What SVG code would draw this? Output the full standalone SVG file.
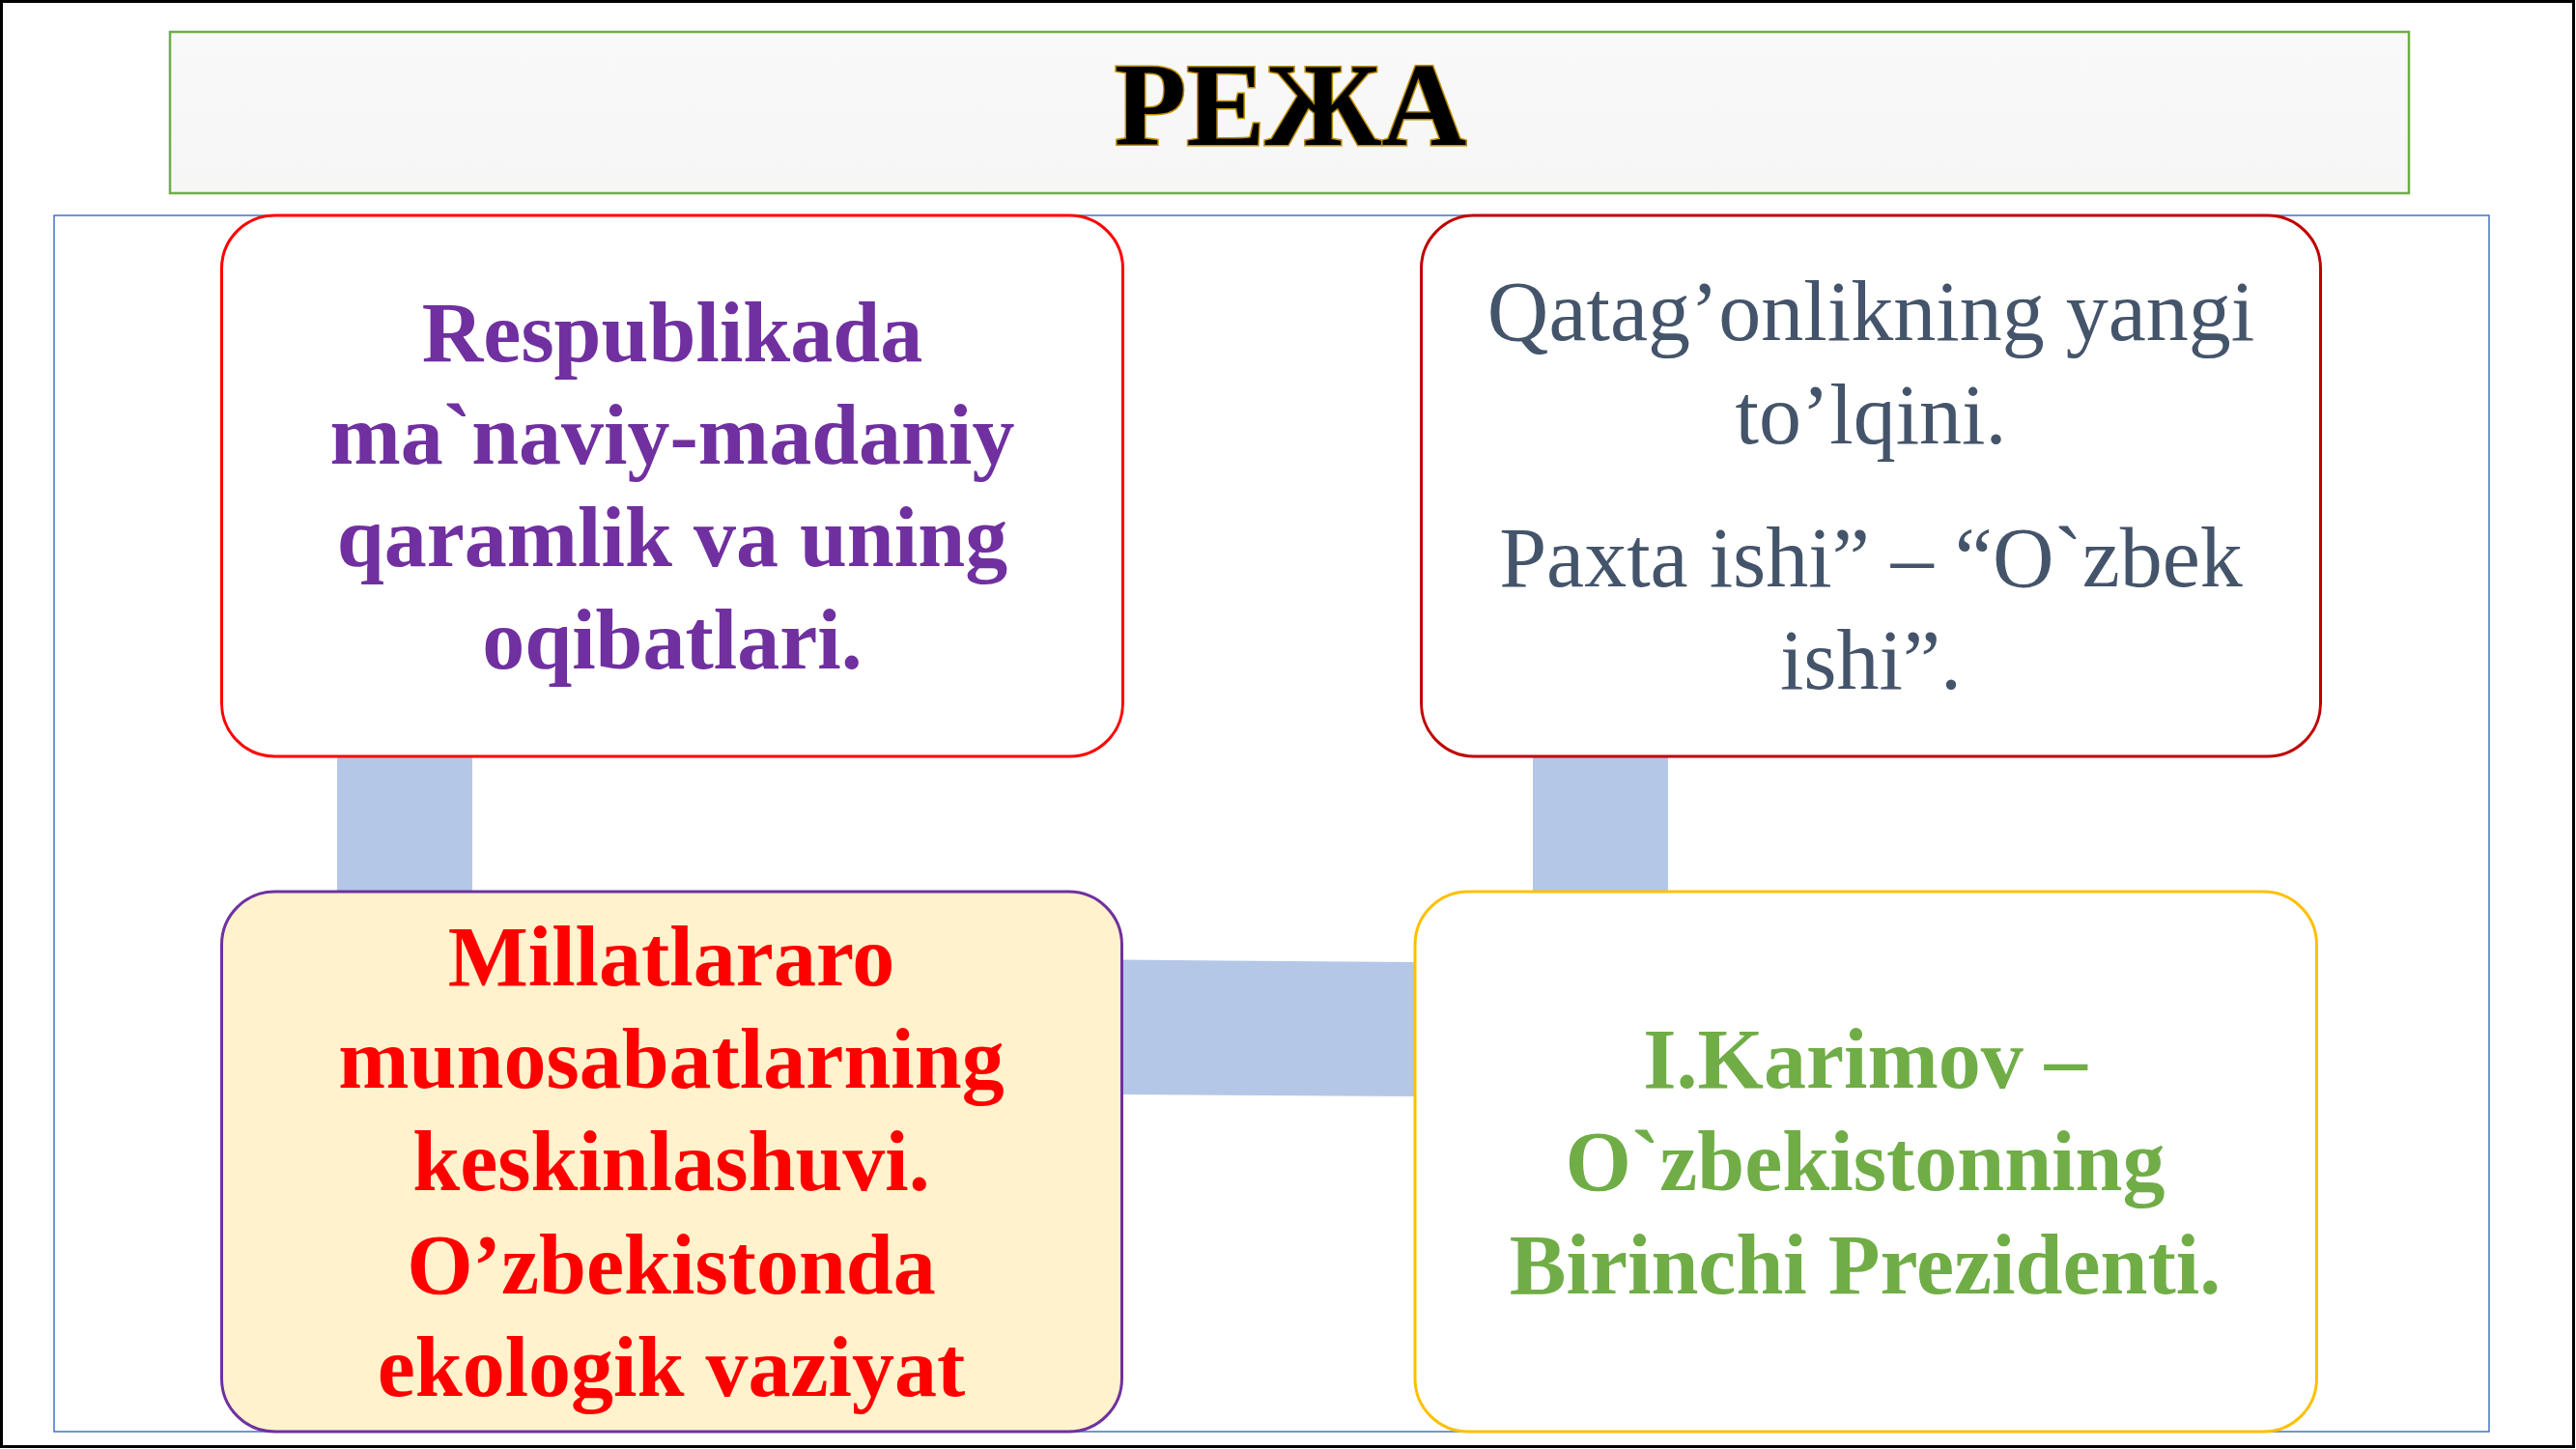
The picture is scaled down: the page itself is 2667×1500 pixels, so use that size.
<svg xmlns="http://www.w3.org/2000/svg" width="2667" height="1500" viewBox="0 0 2667 1500">
<style>
.t{font-family:"Liberation Serif","Times New Roman",serif;font-size:88px;text-anchor:middle}
.b{font-weight:bold}
.box{stroke-width:3}
.conn{fill:#B4C7E7;stroke:none}
</style>
<defs>
<linearGradient id="hdr" x1="0" y1="0" x2="0" y2="1">
<stop offset="0" stop-color="#F9F9F9"/>
<stop offset="1" stop-color="#F6F6F6"/>
</linearGradient>
</defs>
<rect x="0" y="0" width="2667" height="1500" fill="#FFFFFF"/>
<rect x="1.5" y="1.5" width="2663" height="1496" fill="none" stroke="#000000" stroke-width="3"/>
<g id="header">
<rect x="176" y="33" width="2318" height="167" fill="url(#hdr)" stroke="#70AD47" stroke-width="2.5"/>
<text x="1336" y="150" style="font-family:'Liberation Serif','Times New Roman',serif;font-size:122px;font-weight:bold;text-anchor:middle;paint-order:stroke" fill="#000000" stroke="#BF8F00" stroke-width="3">РЕЖА</text>
</g>
<rect id="frame" x="56" y="223" width="2521" height="1259" fill="none" stroke="#4472C4" stroke-width="1.5"/>
<g id="connectors">
<rect class="conn" x="349" y="780" width="140" height="145"/>
<rect class="conn" x="1587" y="780" width="140" height="145"/>
<polygon class="conn" points="1160,993.5 1466,996 1466,1135 1160,1133"/>
</g>
<g id="node1">
<rect class="box" x="229.5" y="223" width="933" height="560" rx="55" ry="55" fill="#FFFFFF" stroke="#FF0000"/>
<text class="t b" fill="#7030A0"><tspan x="696" y="374">Respublikada</tspan><tspan x="696" y="480">ma`naviy-madaniy</tspan><tspan x="696" y="586">qaramlik va uning</tspan><tspan x="696" y="692">oqibatlari.</tspan></text>
</g>
<g id="node2">
<rect class="box" x="1471.5" y="223" width="931" height="560" rx="55" ry="55" fill="#FFFFFF" stroke="#C00000"/>
<text class="t" fill="#44546A"><tspan x="1937" y="352">Qatag’onlikning yangi</tspan><tspan x="1937" y="459">to’lqini.</tspan><tspan x="1937" y="607">Paxta ishi” – “O`zbek</tspan><tspan x="1937" y="713">ishi”.</tspan></text>
</g>
<g id="node3">
<rect class="box" x="229.5" y="923" width="932" height="559" rx="55" ry="55" fill="#FFF2CC" stroke="#7030A0"/>
<text class="t b" fill="#FF0000"><tspan x="695" y="1020">Millatlararo</tspan><tspan x="695" y="1126">munosabatlarning</tspan><tspan x="695" y="1232">keskinlashuvi.</tspan><tspan x="695" y="1339">O’zbekistonda</tspan><tspan x="695" y="1445">ekologik vaziyat</tspan></text>
</g>
<g id="node4">
<rect class="box" x="1465" y="923" width="933.5" height="559" rx="55" ry="55" fill="#FFFFFF" stroke="#FFC000"/>
<text class="t b" fill="#70AD47"><tspan x="1931" y="1126">I.Karimov –</tspan><tspan x="1931" y="1232">O`zbekistonning</tspan><tspan x="1931" y="1339">Birinchi Prezidenti.</tspan></text>
</g>
</svg>
